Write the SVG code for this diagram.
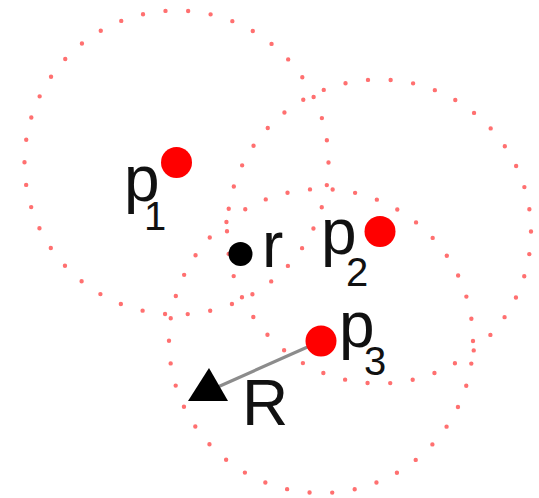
<svg xmlns="http://www.w3.org/2000/svg" width="539" height="498" viewBox="0 0 539 498">
<style>
.ring{fill:none;stroke:#ff7070;stroke-width:4.4;stroke-linecap:round;stroke-dasharray:0 22.74}
.pt{fill:#ff0000}
.lbl{font-family:"Liberation Sans",Arial,sans-serif;font-size:64px;fill:#111}
.sub{font-size:40px}
</style>
<rect width="539" height="498" fill="#ffffff"/>
<g id="circles">
<circle class="ring" cx="176.5" cy="162.5" r="152"/>
<circle class="ring" cx="379" cy="231.5" r="152"/>
<circle class="ring" cx="321" cy="341" r="152"/>
</g>
<g id="connectors">
<line x1="321" y1="341" x2="211" y2="390" stroke="#8c8c8c" stroke-width="3.2"/>
</g>
<g id="p1">
<circle class="pt" cx="176.5" cy="162.5" r="15.5"/>
<text class="lbl" x="124" y="201">p<tspan class="sub" x="144" y="230">1</tspan></text>
</g>
<g id="p2">
<circle class="pt" cx="380" cy="231.5" r="15.5"/>
<text class="lbl" x="321" y="254">p<tspan class="sub" x="346" y="286">2</tspan></text>
</g>
<g id="p3">
<circle class="pt" cx="321" cy="341" r="15.5"/>
<text class="lbl" x="339" y="347">p<tspan class="sub" x="364" y="375">3</tspan></text>
</g>
<g id="r">
<circle cx="240.5" cy="254" r="12" fill="#000"/>
<text class="lbl" x="262" y="267">r</text>
</g>
<g id="R">
<polygon points="209,368 188,401 228,401" fill="#000"/>
<text class="lbl" x="242" y="425">R</text>
</g>
</svg>
